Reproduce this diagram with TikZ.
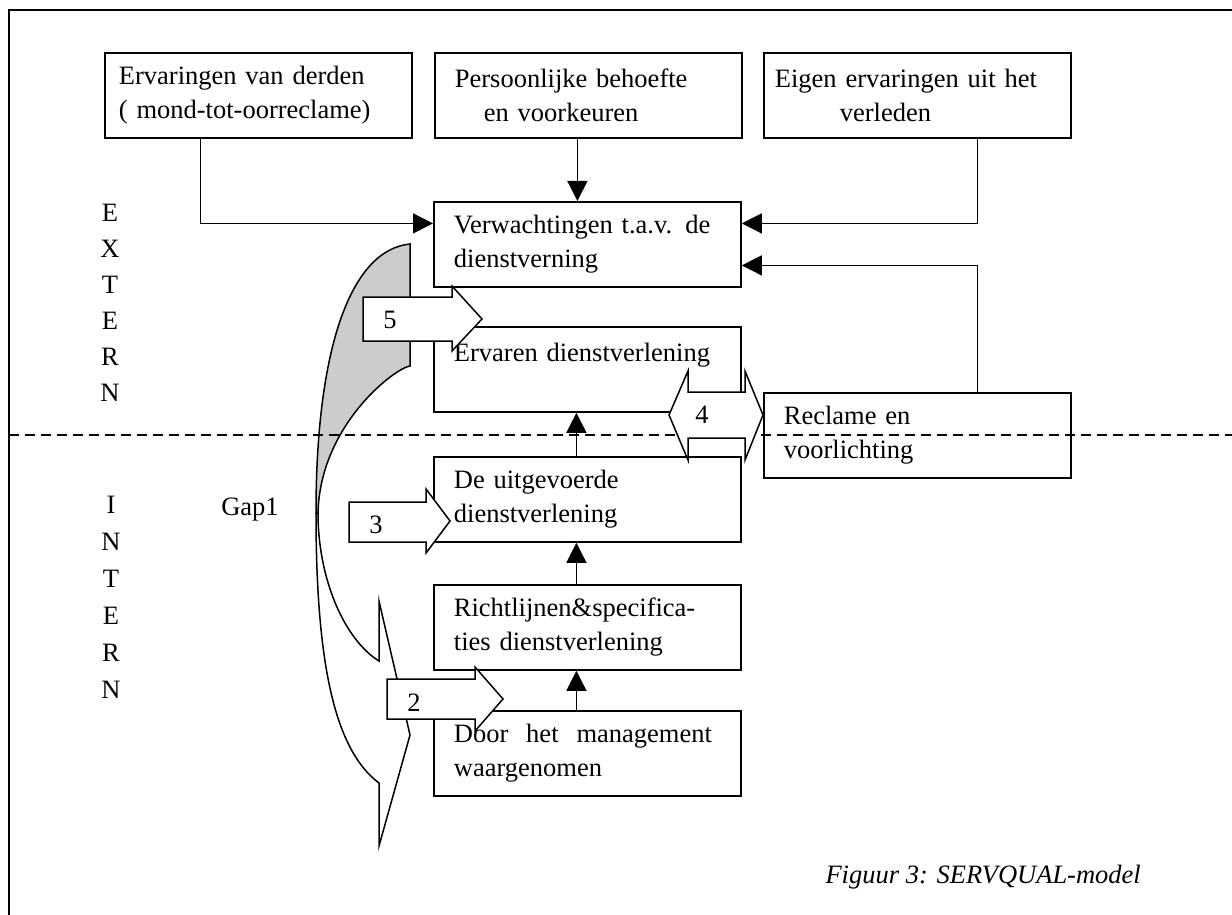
\documentclass[tikz,border=0pt]{standalone}
\usepackage{fontspec}
\setmainfont{Liberation Serif}
\usetikzlibrary{arrows.meta,calc,positioning}

\begin{document}
\begin{tikzpicture}[x=1pt,y=-1pt,
    font=\fontsize{26.5pt}{34pt}\selectfont,
    box/.style={draw,line width=1.8pt,anchor=north west,minimum width=307pt,
      minimum height=85pt,inner xsep=20pt,text width=267pt,align=left},
    conn/.style={line width=1.4pt,-{Triangle[length=20pt,width=20pt]}},
    blockarrow/.style={draw,line width=1.5pt,fill=white,line join=miter}]
  \useasboundingbox (0,0) rectangle (1232,915);
  % frame
  \draw[line width=2pt] (9,915) -- (9,10) -- (1232,10);

  % curved arrow, gap 1
  \filldraw[fill=gray!40,line width=1.5pt] (410,244) .. controls (350,250) and (316,350) .. (316,513)
    -- (318,513) .. controls (320,425) and (395,368) .. (410,366) -- cycle;
  \draw[line width=1.5pt,line join=miter] (316,513) .. controls (316,665) and (335,750) .. (379,783)
    -- (379,846) -- (410,735) -- (379,601) -- (379,661)
    .. controls (345,640) and (318,580) .. (318,513);

  % boxes
  \node[box,inner xsep=14pt,text width=279pt] (ervaring) at (104,52) {Ervaringen van derden\\( mond-tot-oorreclame)};
  \node[box] (persoon) at (434,52) {Persoonlijke behoefte\\\hspace*{29pt}en voorkeuren};
  \node[box,inner xsep=11pt,text width=285pt] (eigen) at (763,52) {Eigen ervaringen uit het\\\hspace*{65pt}verleden};
  \node[box] (verwacht) at (433,201) {Verwachtingen t.a.v. de\\dienstverning};
  \node[box] (ervaren) at (433,326) {Ervaren dienstverlening\\\mbox{}};
  \node[box] (uitgevoerd) at (433,456) {De uitgevoerde\\dienstverlening};
  \node[box] (richtlijn) at (433,584) {Richtlijnen\&specifica-\\ties dienstverlening};
  \node[box] (management) at (433,710) {\makebox[258pt][l]{Door\hfill het\hfill management}\\waargenomen};
  \node[box] (reclame) at (763,392) {Reclame en\\voorlichting};

  % connectors
  \draw[conn] ([xshift=-58pt]ervaring.south) |- ([yshift=21pt]verwacht.west);
  \draw[conn] ([xshift=-11pt]persoon.south) -- ([xshift=-11pt]persoon.south |- verwacht.north);
  \draw[conn] ([xshift=60pt]eigen.south) |- ([yshift=21pt]verwacht.east);
  \draw[conn] ([xshift=60pt]reclame.north) |- ([yshift=-21pt]verwacht.east);
  \draw[conn] ([xshift=-11pt]uitgevoerd.north) -- ([xshift=-11pt]ervaren.south);
  \draw[conn] ([xshift=-11pt]richtlijn.north) -- ([xshift=-11pt]uitgevoerd.south);
  \draw[conn] ([xshift=-11pt]management.north) -- ([xshift=-11pt]richtlijn.south);

  % extern / intern
  \draw[line width=1.3pt,dash pattern=on 10pt off 6pt] (9,435) -- (1232,435);

  % gap arrows
  \draw[blockarrow] (363,297) -- (452,297) -- (452,286) -- (482,319) -- (452,351) -- (452,341) -- (363,341) -- cycle;
  \node (gap5) at (390,320) {5};
  \draw[blockarrow] (349,502) -- (426,502) -- (426,489) -- (450,521) -- (426,553) -- (426,542) -- (349,542) -- cycle;
  \node (gap3) at (376,525) {3};
  \draw[blockarrow] (387,679) -- (475,679) -- (475,667) -- (503,699) -- (475,731) -- (475,719) -- (387,719) -- cycle;
  \node (gap2) at (414,703) {2};
  \draw[blockarrow] (669,415) -- (688,371) -- (688,392) -- (745,392) -- (745,371) -- (763,415)
    -- (745,460) -- (745,438) -- (688,438) -- (688,460) -- cycle;
  \node (gap4) at (702,415) {4};

  \node[align=center,font=\fontsize{26.5pt}{36pt}\selectfont] (extern) at (110,303) {E\\X\\T\\E\\R\\N};
  \node[align=center,font=\fontsize{26.5pt}{37pt}\selectfont] (intern) at (111,597) {I\\N\\T\\E\\R\\N};
  \node[anchor=base] (gaplabel) at (250,515) {Gap1};
  \node[anchor=base west,font=\fontsize{26.5pt}{34pt}\selectfont\itshape] (caption) at (822,883) {Figuur 3: SERVQUAL-model};
\end{tikzpicture}
\end{document}
